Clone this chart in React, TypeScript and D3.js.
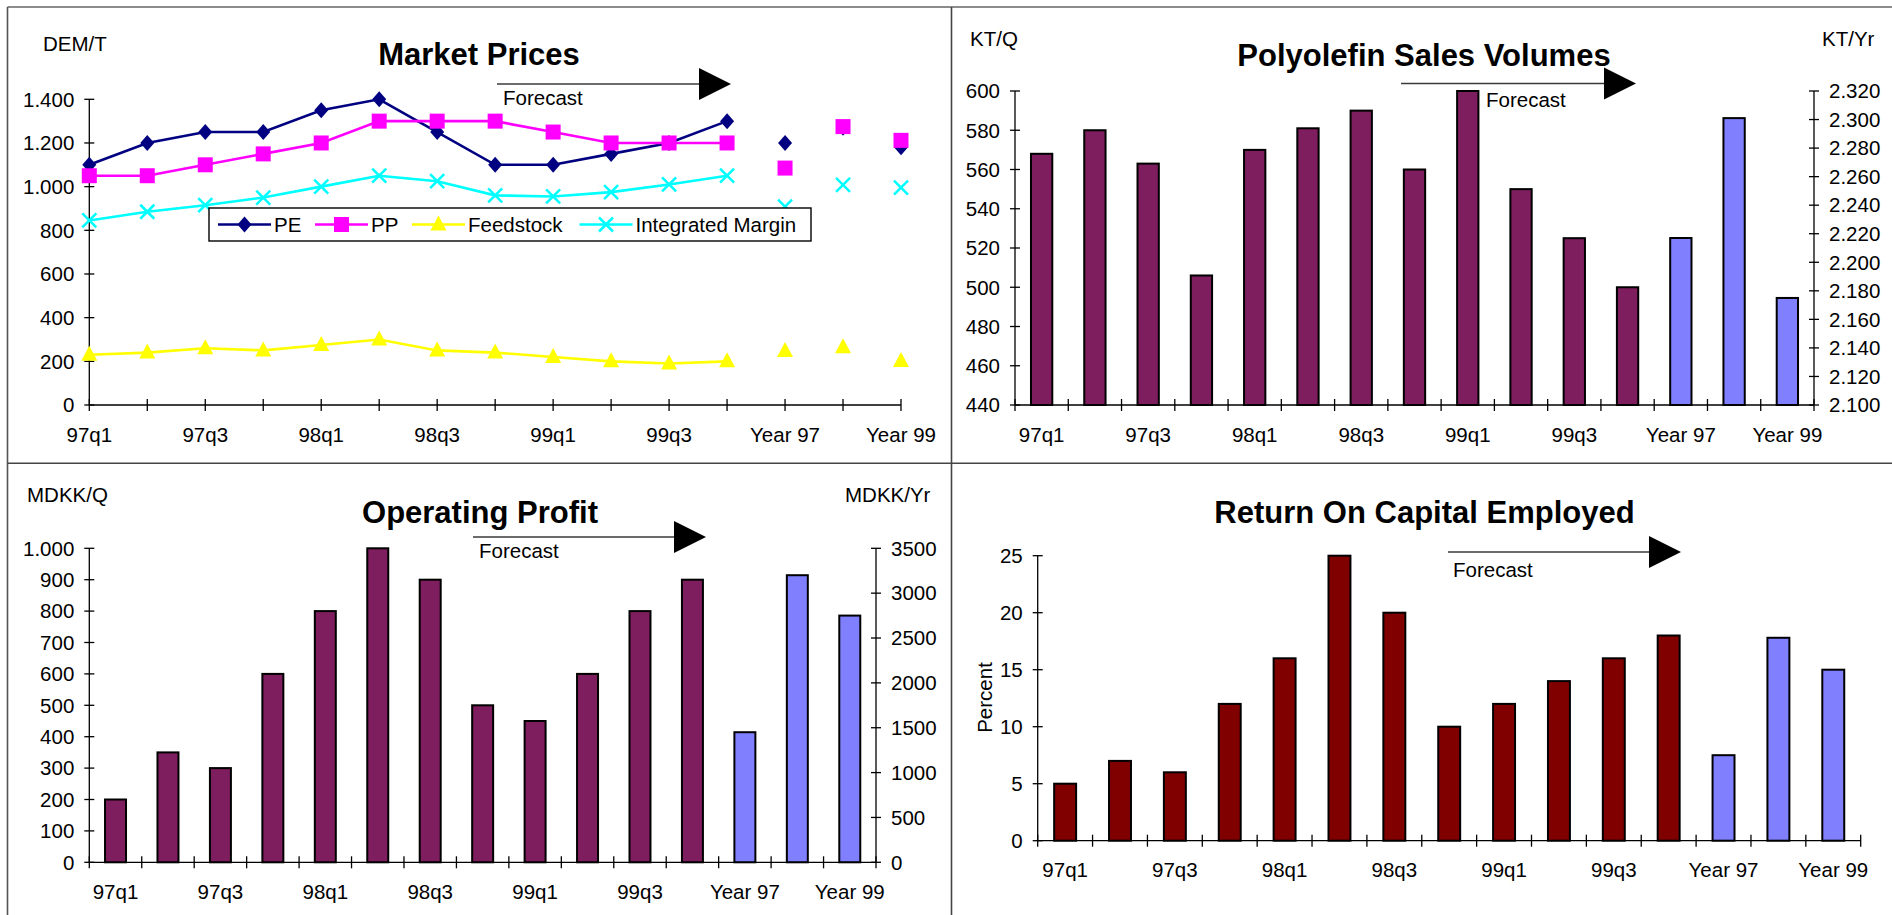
import React from "react";
import * as d3 from "d3";

// ---------- DATA ----------
const categories = [
  "97q1", "97q2", "97q3", "97q4", "98q1", "98q2", "98q3", "98q4",
  "99q1", "99q2", "99q3", "99q4", "Year 97", "Year 98", "Year 99",
];
const xTickLabels = [
  "97q1", "", "97q3", "", "98q1", "", "98q3", "", "99q1", "", "99q3", "", "Year 97", "", "Year 99",
];
const quarterCats = categories.slice(0, 12);
const yearCats = categories.slice(12);

// Market prices (DEM/T)
const pePrices = [1100, 1200, 1250, 1250, 1350, 1400, 1250, 1100, 1100, 1150, 1200, 1300, 1200, 1270, 1180];
const ppPrices = [1050, 1050, 1100, 1150, 1200, 1300, 1300, 1300, 1250, 1200, 1200, 1200, 1085, 1275, 1212];
const feedstockPrices = [230, 240, 260, 250, 275, 300, 250, 240, 220, 200, 190, 200, 247, 265, 202];
const integratedMargin = [845, 885, 915, 950, 1000, 1050, 1025, 960, 955, 975, 1010, 1050, 908, 1008, 995];
const priceTicks = [0, 200, 400, 600, 800, 1000, 1200, 1400];

// Polyolefin sales volumes
const salesQuarterly = [568, 580, 563, 506, 570, 581, 590, 560, 600, 550, 525, 500]; // KT/Q
const salesYearly = [2217, 2301, 2175]; // KT/Yr
const salesTicksQ = [440, 460, 480, 500, 520, 540, 560, 580, 600];
const salesTicksYr = [2100, 2120, 2140, 2160, 2180, 2200, 2220, 2240, 2260, 2280, 2300, 2320];

// Operating profit
const profitQuarterly = [200, 350, 300, 600, 800, 1000, 900, 500, 450, 600, 800, 900]; // MDKK/Q
const profitYearly = [1450, 3200, 2750]; // MDKK/Yr
const profitTicksQ = [0, 100, 200, 300, 400, 500, 600, 700, 800, 900, 1000];
const profitTicksYr = [0, 500, 1000, 1500, 2000, 2500, 3000, 3500];

// Return on capital employed (percent)
const roceQuarterly = [5, 7, 6, 12, 16, 25, 20, 10, 12, 14, 16, 18];
const roceYearly = [7.5, 17.8, 15];
const roceTicks = [0, 5, 10, 15, 20, 25];

// ---------- STYLE ----------
const FONT = "'Liberation Sans', Arial, Helvetica, sans-serif";
const FS = 20.5;
const locale = d3.formatLocale({ decimal: ",", thousands: ".", grouping: [3], currency: ["", ""] });
const fmtDot = locale.format(",d");
const fmtPlain = d3.format("d");

function Forecast({ x1, x2, y, tx, ty }: { x1: number; x2: number; y: number; tx: number; ty: number }) {
  return (
    <g>
      <line x1={x1} x2={x2} y1={y} y2={y} stroke="#3a3a3a" strokeWidth={1.6} />
      <path d={`M${x2},${y - 16} L${x2 + 32},${y} L${x2},${y + 16} Z`} fill="#000" />
      <text x={tx} y={ty} fontSize={FS} fontFamily={FONT} fill="#000">Forecast</text>
    </g>
  );
}

function Title({ x, y, text }: { x: number; y: number; text: string }) {
  return (
    <text x={x} y={y} textAnchor="middle" fontSize={31} fontWeight="bold" fontFamily={FONT} fill="#000">
      {text}
    </text>
  );
}

function YAxis({ x, scale, ticks, fmt, side }: any) {
  const [r0, r1] = scale.range();
  return (
    <g>
      <line x1={x} x2={x} y1={r0} y2={r1} stroke="#000" strokeWidth={1.3} />
      {ticks.map((t: number) => (
        <g key={t}>
          <line x1={x - 5} x2={x + 5} y1={scale(t)} y2={scale(t)} stroke="#000" strokeWidth={1.3} />
          <text
            x={side === "left" ? x - 15 : x + 15}
            y={scale(t) + 7.3}
            textAnchor={side === "left" ? "end" : "start"}
            fontSize={FS}
            fontFamily={FONT}
            fill="#000"
          >
            {fmt(t)}
          </text>
        </g>
      ))}
    </g>
  );
}

function marker(kind: string, x: number, y: number, key: any) {
  if (kind === "diamond")
    return <path key={key} d={`M${x},${y - 8} L${x + 7},${y} L${x},${y + 8} L${x - 7},${y} Z`} fill="#000080" />;
  if (kind === "square")
    return <rect key={key} x={x - 7.5} y={y - 7.5} width={15} height={15} fill="#FF00FF" />;
  if (kind === "triangle")
    return <path key={key} d={`M${x},${y - 9} L${x + 8},${y + 6} L${x - 8},${y + 6} Z`} fill="#FFFF00" />;
  return (
    <path key={key} d={`M${x - 7},${y - 7} L${x + 7},${y + 7} M${x - 7},${y + 7} L${x + 7},${y - 7}`}
      stroke="#00FFFF" strokeWidth={2.5} fill="none" />
  );
}

function MarketPrices() {
  const x = d3.scalePoint<string>().domain(categories).range([89.3, 901]);
  const y = d3.scaleLinear().domain([0, 1400]).range([405, 99.3]);
  const series = [
    { name: "PE", data: pePrices, color: "#000080", kind: "diamond" },
    { name: "PP", data: ppPrices, color: "#FF00FF", kind: "square" },
    { name: "Feedstock", data: feedstockPrices, color: "#FFFF00", kind: "triangle" },
    { name: "Integrated Margin", data: integratedMargin, color: "#00FFFF", kind: "cross" },
  ];
  const line = d3.line<number>().x((_, i) => x(quarterCats[i]) as number).y((d) => y(d));
  const legendX = [218, 315, 412, 579.5];
  return (
    <g>
      <text x={43} y={51} fontSize={FS} fontFamily={FONT}>DEM/T</text>
      <Title x={479} y={65} text="Market Prices" />
      <Forecast x1={497} x2={699} y={84} tx={503} ty={104.7} />
      <YAxis x={89.3} scale={y} ticks={priceTicks} fmt={fmtDot} side="left" />
      <line x1={89.3} x2={901} y1={405} y2={405} stroke="#000" strokeWidth={1.3} />
      {categories.map((c) => (
        <line key={c} x1={x(c)} x2={x(c)} y1={399} y2={411} stroke="#000" strokeWidth={1.3} />
      ))}
      {categories.map((c, i) =>
        xTickLabels[i] ? (
          <text key={c} x={x(c)} y={441.5} textAnchor="middle" fontSize={FS} fontFamily={FONT}>{xTickLabels[i]}</text>
        ) : null
      )}
      {series.map((s) => (
        <g key={s.name}>
          <path d={line(s.data.slice(0, 12)) || ""} fill="none" stroke={s.color} strokeWidth={2.6} />
          {s.data.map((v, i) => marker(s.kind, x(categories[i]) as number, y(v), i))}
        </g>
      ))}
      <rect x={209} y={208} width={602} height={33} fill="#fff" stroke="#000" strokeWidth={1.4} />
      {series.map((s, i) => (
        <g key={s.name}>
          <line x1={legendX[i]} x2={legendX[i] + 53} y1={224.5} y2={224.5} stroke={s.color} strokeWidth={2.6} />
          {marker(s.kind, legendX[i] + 26.5, 224.5, "m")}
          <text x={legendX[i] + 56} y={231.8} fontSize={FS} fontFamily={FONT}>{s.name}</text>
        </g>
      ))}
    </g>
  );
}

function BarPanel(props: any) {
  const { left, right, yTop, yBottom, qDomain, qTicks, qFmt, yrDomain, yrTicks, yrFmt, qColor, yrColor, qData, yrData } = props;
  const x = d3.scaleBand<string>().domain(categories).range([left, right]).padding(0);
  const yq = d3.scaleLinear().domain(qDomain).range([yBottom, yTop]);
  const yy = yrDomain ? d3.scaleLinear().domain(yrDomain).range([yBottom, yTop]) : yq;
  const bw = x.bandwidth() * 0.4;
  const edges = d3.range(categories.length + 1).map((i) => left + i * x.step());
  const bars = [
    ...qData.map((v: number, i: number) => ({ c: quarterCats[i], top: yq(v), color: qColor })),
    ...yrData.map((v: number, i: number) => ({ c: yearCats[i], top: yy(v), color: yrColor })),
  ];
  return (
    <g>
      {bars.map((b: any) => {
        const cx = (x(b.c) as number) + x.bandwidth() / 2;
        return (
          <rect key={b.c} x={cx - bw / 2} y={b.top} width={bw} height={yBottom - b.top}
            fill={b.color} stroke="#000" strokeWidth={2} />
        );
      })}
      <YAxis x={left} scale={yq} ticks={qTicks} fmt={qFmt} side="left" />
      {yrDomain ? <YAxis x={right} scale={yy} ticks={yrTicks} fmt={yrFmt} side="right" /> : null}
      <line x1={left} x2={right} y1={yBottom} y2={yBottom} stroke="#000" strokeWidth={1.3} />
      {edges.map((e, i) => (
        <line key={i} x1={e} x2={e} y1={yBottom - 6} y2={yBottom + 6} stroke="#000" strokeWidth={1.3} />
      ))}
      {categories.map((c, i) =>
        xTickLabels[i] ? (
          <text key={c} x={(x(c) as number) + x.bandwidth() / 2} y={yBottom + 36.5} textAnchor="middle"
            fontSize={FS} fontFamily={FONT}>{xTickLabels[i]}</text>
        ) : null
      )}
    </g>
  );
}

export default function App() {
  return (
    <svg width={1892} height={915} style={{ position: "fixed", left: 0, top: 0, background: "#fff" }}
      xmlns="http://www.w3.org/2000/svg">
      <rect x={0} y={0} width={1892} height={915} fill="#fff" />
      {/* frame */}
      <line x1={7.5} x2={1892} y1={7} y2={7} stroke="#666" strokeWidth={1.6} />
      <line x1={7.5} x2={7.5} y1={7} y2={915} stroke="#555" strokeWidth={1.6} />
      <line x1={951.5} x2={951.5} y1={7} y2={915} stroke="#444" strokeWidth={1.6} />
      <line x1={7.5} x2={1892} y1={463.3} y2={463.3} stroke="#444" strokeWidth={1.6} />

      <MarketPrices />

      {/* Polyolefin Sales Volumes */}
      <g>
        <text x={970} y={45.5} fontSize={FS} fontFamily={FONT}>KT/Q</text>
        <text x={1822} y={45.5} fontSize={FS} fontFamily={FONT}>KT/Yr</text>
        <Title x={1424} y={65.5} text="Polyolefin Sales Volumes" />
        <Forecast x1={1401} x2={1604} y={83.5} tx={1486} ty={107} />
        <BarPanel left={1015} right={1814} yTop={91} yBottom={405}
          qDomain={[440, 600]} qTicks={salesTicksQ} qFmt={fmtPlain}
          yrDomain={[2100, 2320]} yrTicks={salesTicksYr} yrFmt={fmtDot}
          qColor="#7E1E5E" yrColor="#8080FF" qData={salesQuarterly} yrData={salesYearly} />
      </g>

      {/* Operating Profit */}
      <g>
        <text x={27} y={502} fontSize={FS} fontFamily={FONT}>MDKK/Q</text>
        <text x={845} y={502} fontSize={FS} fontFamily={FONT}>MDKK/Yr</text>
        <Title x={480} y={523} text="Operating Profit" />
        <Forecast x1={473} x2={674} y={537} tx={479} ty={558} />
        <BarPanel left={89.3} right={876} yTop={548.3} yBottom={862.3}
          qDomain={[0, 1000]} qTicks={profitTicksQ} qFmt={fmtDot}
          yrDomain={[0, 3500]} yrTicks={profitTicksYr} yrFmt={fmtPlain}
          qColor="#7E1E5E" yrColor="#8080FF" qData={profitQuarterly} yrData={profitYearly} />
      </g>

      {/* Return On Capital Employed */}
      <g>
        <Title x={1424.5} y={523} text="Return On Capital Employed" />
        <Forecast x1={1448} x2={1649} y={552} tx={1453} ty={577} />
        <text transform="translate(992,697.5) rotate(-90)" textAnchor="middle" fontSize={FS} fontFamily={FONT}>Percent</text>
        <BarPanel left={1037.7} right={1860.7} yTop={555.7} yBottom={840.7}
          qDomain={[0, 25]} qTicks={roceTicks} qFmt={fmtPlain}
          qColor="#800000" yrColor="#8080FF" qData={roceQuarterly} yrData={roceYearly} />
      </g>
    </svg>
  );
}
